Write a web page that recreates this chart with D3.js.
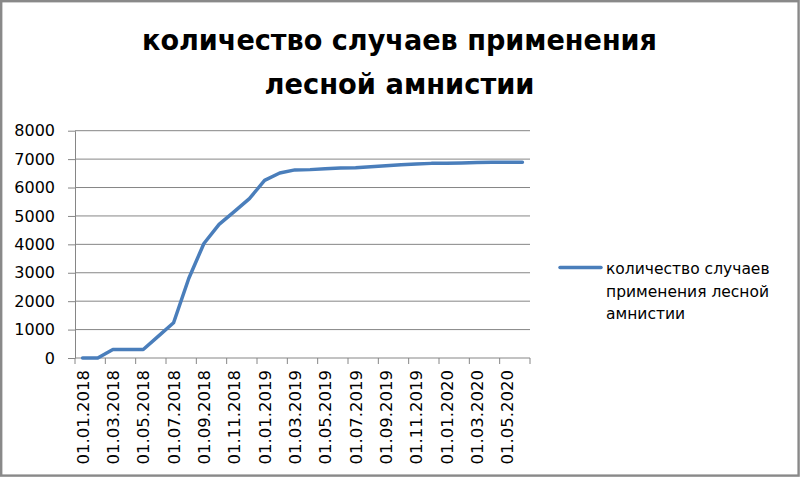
<!DOCTYPE html>
<html>
<head>
<meta charset="utf-8">
<script src="https://cdn.jsdelivr.net/npm/d3@7"></script>
<style>
  body { margin: 0; background: #fff; }
  text { font-family: "DejaVu Sans", sans-serif; fill: #000; }
</style>
</head>
<body>
<div id="chart"></div>
<script>
var w = 800, h = 477;

// data
var titleLines = ["количество случаев применения", "лесной амнистии"];
var legendLines = ["количество случаев", "применения лесной", "амнистии"];
var months = [
	"01.01.2018", "01.02.2018", "01.03.2018", "01.04.2018", "01.05.2018", "01.06.2018",
	"01.07.2018", "01.08.2018", "01.09.2018", "01.10.2018", "01.11.2018", "01.12.2018",
	"01.01.2019", "01.02.2019", "01.03.2019", "01.04.2019", "01.05.2019", "01.06.2019",
	"01.07.2019", "01.08.2019", "01.09.2019", "01.10.2019", "01.11.2019", "01.12.2019",
	"01.01.2020", "01.02.2020", "01.03.2020", "01.04.2020", "01.05.2020", "01.06.2020"
];
var cases = [
	0, 0, 300, 300, 300, 770,
	1240, 2800, 4030, 4700, 5150, 5610,
	6250, 6510, 6620, 6630, 6660, 6690,
	6700, 6730, 6770, 6800, 6830, 6850,
	6850, 6860, 6880, 6890, 6890, 6890
];
var yTicks = [0, 1000, 2000, 3000, 4000, 5000, 6000, 7000, 8000];

var plotLeft = 75, plotRight = 530, plotTop = 130.7, plotBottom = 358;
var gridColor = "#868686", lineColor = "#4a7ebb";

var svg = d3.select("#chart")
	.append("svg")
	.attr("width", w)
	.attr("height", h);

svg.append("rect")
	.attr("x", 1.2).attr("y", 1.2)
	.attr("width", w - 2.6).attr("height", h - 2.6)
	.attr("fill", "#fff")
	.attr("stroke", "#898989")
	.attr("stroke-width", 2.4);

var x = d3.scaleBand().domain(months).range([plotLeft, plotRight]);
var y = d3.scaleLinear().domain([0, 8000]).range([plotBottom, plotTop]);

// title
svg.selectAll(".title")
	.data(titleLines)
	.enter().append("text")
	.attr("class", "title")
	.attr("x", 399.5)
	.attr("y", function(d, i) { return 50 + i * 44; })
	.attr("text-anchor", "middle")
	.attr("font-size", 28)
	.attr("font-weight", "bold")
	.attr("textLength", function(d, i) { return i == 0 ? 515 : 270; })
	.attr("lengthAdjust", "spacingAndGlyphs")
	.text(function(d) { return d; });

// horizontal gridlines
svg.append("g")
	.selectAll("line")
	.data(yTicks)
	.enter().append("line")
	.attr("x1", plotLeft).attr("x2", plotRight)
	.attr("y1", function(d) { return y(d); })
	.attr("y2", function(d) { return y(d); })
	.attr("stroke", gridColor)
	.attr("stroke-width", 1);

// y axis
var yAxis = svg.append("g")
	.attr("transform", "translate(" + plotLeft + ",0)")
	.call(d3.axisLeft(y).tickValues(yTicks).tickFormat(d3.format("d"))
		.tickSize(7).tickPadding(13).tickSizeOuter(0));
yAxis.select(".domain").attr("stroke", gridColor);
yAxis.selectAll(".tick line").attr("stroke", gridColor);
yAxis.selectAll(".tick text")
	.attr("font-family", "DejaVu Sans")
	.attr("font-size", 16)
	.attr("fill", "#000");

// x axis: ticks on every second category boundary, labels on every second category
var bw = x.bandwidth();
var bounds = d3.range(0, months.length + 1, 2);
svg.append("g")
	.selectAll("line")
	.data(bounds)
	.enter().append("line")
	.attr("x1", function(d) { return plotLeft + d * bw; })
	.attr("x2", function(d) { return plotLeft + d * bw; })
	.attr("y1", plotBottom).attr("y2", plotBottom + 6)
	.attr("stroke", gridColor);

var xAxis = svg.append("g")
	.attr("transform", "translate(0," + plotBottom + ")")
	.call(d3.axisBottom(x).tickValues(months.filter(function(d, i) { return i % 2 == 0; })).tickSize(0));
xAxis.select(".domain").remove();
xAxis.selectAll(".tick text")
	.attr("font-family", "DejaVu Sans")
	.attr("font-size", 16.5)
	.attr("fill", "#000")
	.attr("text-anchor", "end")
	.attr("transform", "rotate(-90)")
	.attr("x", -12)
	.attr("y", 0)
	.attr("dy", "0.36em")
	.attr("dx", 0);

// the series
var line = d3.line()
	.x(function(d, i) { return x(months[i]) + bw / 2; })
	.y(function(d) { return y(d); });

svg.append("path")
	.datum(cases)
	.attr("d", line)
	.attr("fill", "none")
	.attr("stroke", lineColor)
	.attr("stroke-width", 3.5)
	.attr("stroke-linejoin", "round")
	.attr("stroke-linecap", "round");

// legend
svg.append("line")
	.attr("x1", 560).attr("x2", 601)
	.attr("y1", 267.5).attr("y2", 267.5)
	.attr("stroke", lineColor)
	.attr("stroke-width", 3.5)
	.attr("stroke-linecap", "round");

svg.selectAll(".legend")
	.data(legendLines)
	.enter().append("text")
	.attr("class", "legend")
	.attr("x", 606)
	.attr("y", function(d, i) { return 274 + i * 22.5; })
	.attr("font-size", 15.5)
	.text(function(d) { return d; });
</script>
</body>
</html>
